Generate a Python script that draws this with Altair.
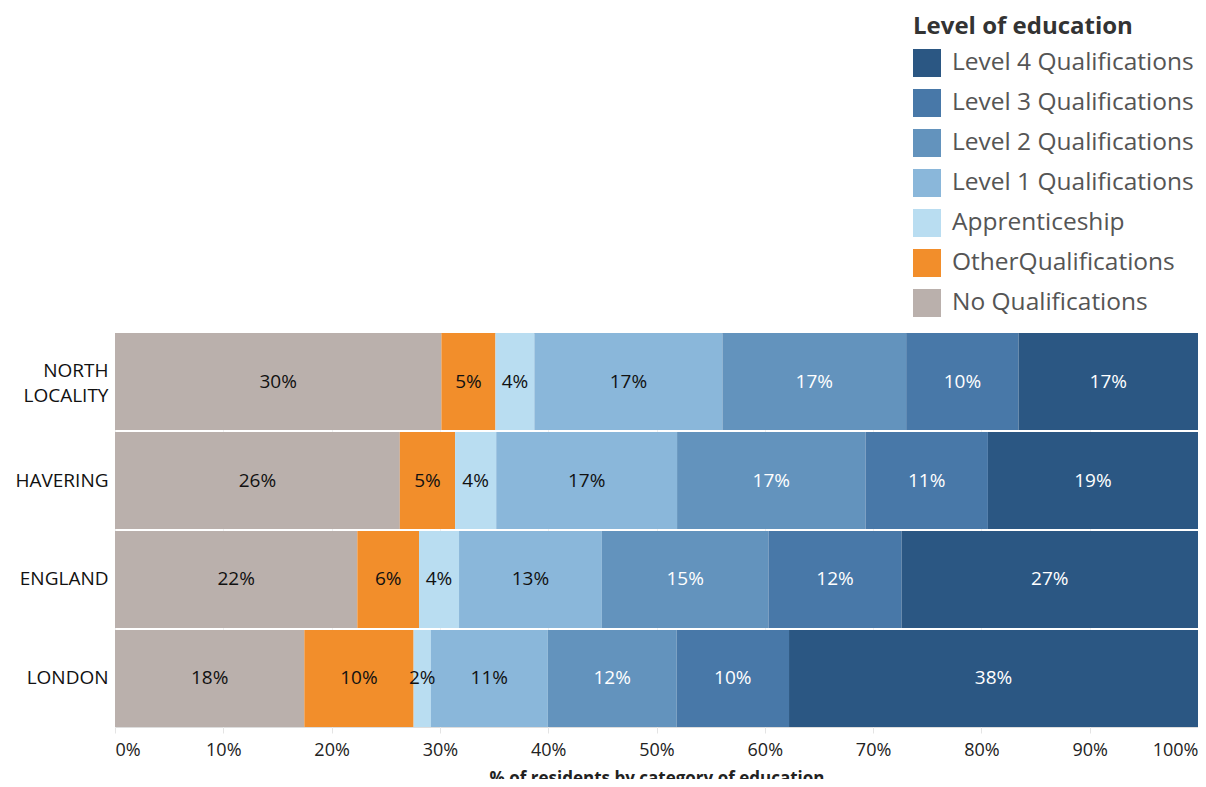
import altair as alt
import pandas as pd

regions = ["NORTH LOCALITY", "HAVERING", "ENGLAND", "LONDON"]
categories = [
    "No Qualifications",
    "OtherQualifications",
    "Apprenticeship",
    "Level 1 Qualifications",
    "Level 2 Qualifications",
    "Level 3 Qualifications",
    "Level 4 Qualifications",
]
cat_colors = ["#bab0ac", "#f28e2b", "#b9ddf1", "#8ab7da", "#6393bd", "#4878a8", "#2b5783"]

north = [30.2, 5.0, 3.6, 17.4, 17.0, 10.4, 16.6]
havering = [26.3, 5.1, 3.8, 16.7, 17.4, 11.3, 19.4]
england = [22.4, 5.7, 3.7, 13.2, 15.4, 12.3, 27.4]
london = [17.5, 10.1, 1.6, 10.8, 11.9, 10.4, 37.8]

series = [north, havering, england, london]
rows = []
for reg, vals in zip(regions, series):
    for i, (cat, v) in enumerate(zip(categories, vals)):
        rows.append({"region": reg, "category": cat, "idx": i, "value": v})
df = pd.DataFrame(rows)

legend_order = categories[::-1]
legend_colors = cat_colors[::-1]
white_text = ["Level 2 Qualifications", "Level 3 Qualifications", "Level 4 Qualifications"]

FONT = "Open Sans"

y_enc = alt.Y(
    "region:N",
    sort=regions,
    title=None,
    scale=alt.Scale(paddingInner=0.02, paddingOuter=0),
    axis=alt.Axis(
        labelExpr="split(datum.label, ' ')",
        labelLineHeight=25,
        labelFontSize=19,
        labelColor="#111111",
        labelFont=FONT,
        labelPadding=7,
        labelLimit=0,
        labelOffset={"condition": {"test": "datum.value == 'NORTH LOCALITY'", "value": -10.5}, "value": 0},
        ticks=False,
        domain=False,
        grid=False,
    ),
)

bars = alt.Chart(df).mark_bar(stroke=None).encode(
    x=alt.X(
        "value:Q",
        stack="normalize",
        scale=alt.Scale(domain=[0, 1], nice=False),
        title="% of residents by category of education",
        axis=alt.Axis(
            format=".0%",
            values=[0, 0.1, 0.2, 0.3, 0.4, 0.5, 0.6, 0.7, 0.8, 0.9, 1.0],
            labelFlush=True,
            labelFontSize=18,
            labelFont=FONT,
            labelColor="#222222",
            labelPadding=8,
            tickColor="#e4e4e4",
            tickSize=6,
            domain=False,
            grid=True,
            gridColor="#f0f0f0",
            titleFont=FONT,
            titleFontSize=17,
            titleFontWeight="bold",
            titleColor="#222222",
            titlePadding=11,
        ),
    ),
    y=y_enc,
    color=alt.Color(
        "category:N",
        scale=alt.Scale(domain=legend_order, range=legend_colors),
        legend=alt.Legend(
            title="Level of education",
            orient="none",
            legendX=798,
            legendY=-318,
            padding=0,
            titleFont=FONT,
            titleFontSize=24,
            titleFontWeight="bold",
            titleColor="#333333",
            titlePadding=10,
            titleLimit=0,
            labelFont=FONT,
            labelFontSize=24.5,
            labelColor="#555555",
            labelOffset=11,
            labelLimit=0,
            symbolType="square",
            symbolSize=784,
            symbolStrokeWidth=0,
            symbolOpacity=1,
            rowPadding=12,
        ),
    ),
    order=alt.Order("idx:Q"),
)

texts = (
    alt.Chart(df)
    .transform_stack(
        stack="value",
        groupby=["region"],
        as_=["x0", "x1"],
        sort=[alt.SortField(field="idx", order="ascending")],
        offset="normalize",
    )
    .transform_calculate(mid="(datum.x0 + datum.x1) / 2", label="round(datum.value) + '%'")
    .mark_text(font=FONT, fontSize=19, align="center", baseline="middle")
    .encode(
        x=alt.X("mid:Q"),
        y=alt.Y("region:N", sort=regions),
        text="label:N",
        color=alt.condition(
            alt.FieldOneOfPredicate(field="category", oneOf=white_text),
            alt.value("#ffffff"),
            alt.value("#111111"),
        ),
    )
)

chart = (
    alt.layer(bars, texts)
    .properties(
        width=1083,
        height=394,
        autosize=alt.AutoSizeParams(type="none"),
        padding={"left": 107, "top": 325, "right": 0, "bottom": 52},
    )
    .configure_view(stroke=None)
    .configure(background="white")
)

chart.save("out.html", embed_options={"renderer": "svg", "actions": False})
